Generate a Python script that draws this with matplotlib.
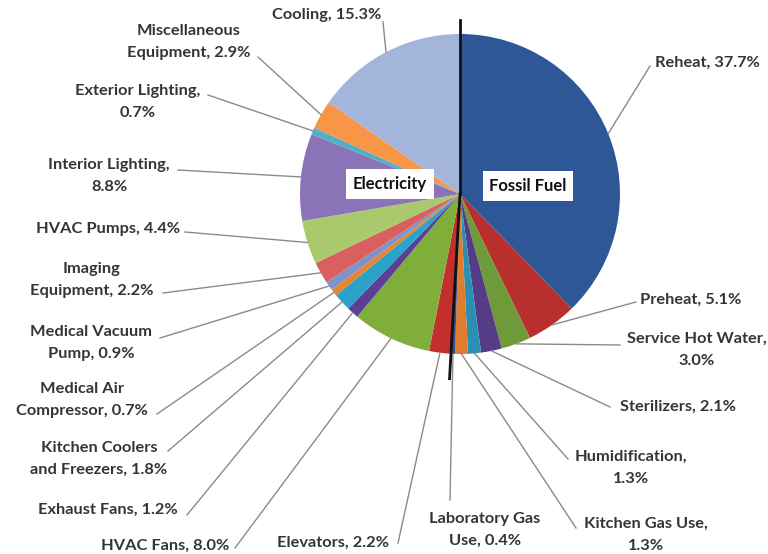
import numpy as np
import matplotlib
matplotlib.use("Agg")
import matplotlib.pyplot as plt

# ---------------- data (clockwise from 12 o'clock) ----------------
categories = ["Reheat", "Preheat", "Service Hot Water", "Sterilizers",
              "Humidification", "Kitchen Gas Use", "Laboratory Gas\nUse",
              "Elevators", "HVAC Fans", "Exhaust Fans",
              "Kitchen Coolers\nand Freezers", "Medical Air\nCompressor",
              "Medical Vacuum\nPump", "Imaging\nEquipment", "HVAC Pumps",
              "Interior Lighting", "Exterior Lighting",
              "Miscellaneous\nEquipment", "Cooling"]
values = [37.7, 5.1, 3.0, 2.1, 1.3, 1.3, 0.4,
          2.2, 8.0, 1.2, 1.8, 0.7, 0.9, 2.2, 4.4, 8.8, 0.7, 2.9, 15.3]
separators = [", ", ", ", ",\n", ", ", ",\n", ",\n", ", ",
              ", ", ", ", ", ", ", ", ", ", ", ", ", ", ", ",
              ",\n", ",\n", ", ", ", "]
groups = ["Fossil"] * 7 + ["Electricity"] * 12
group_names = ["Electricity", "Fossil Fuel"]

colors = ["#2D5797", "#B8302E", "#6F9A3A", "#553C86", "#2B8FB3", "#E07C2E",
          "#2F4F8F",
          "#C2302E", "#80AE3A", "#5B3F96", "#2BA2C9", "#E8842E", "#7F93CB",
          "#D9605F", "#A8C96C", "#8B73B8", "#4FB0C6", "#F79646", "#A3B5DA"]

# ---------------- layout (pixel coordinates, y from top) ----------------
W, H = 768, 554
cx, cy, R = 460, 194, 160
label_pos = [(707, 63), (691, 300), (697, 350), (678, 407), (631, 468),
             (646, 535), (485, 530), (333, 543), (165, 546), (108, 510),
             (99, 459), (82, 400), (91, 343), (92, 280), (108, 229),
             (109, 176), (138, 102), (189, 42), (327, 15)]
line_anchor = [(650, 66), (636, 302), (620, 345), (610, 407), (568, 459),
               (576, 528), (450, 500), (398, 543), (235, 548), (187, 515),
               (168, 451), (157, 414), (160, 338), (163, 293), (185, 232),
               (178, 170), (208, 95), (258, 57), (383, 22)]


def Y(y):
    return H - y


fig = plt.figure(figsize=(W / 100, H / 100), dpi=100)
ax = fig.add_axes([0, 0, 1, 1])

wedges, _ = ax.pie(values, colors=colors, startangle=90, counterclock=False,
                   center=(cx, Y(cy)), radius=R, frame=True,
                   wedgeprops=dict(linewidth=0))
ax.set_xlim(0, W)
ax.set_ylim(0, H)
ax.set_aspect("equal")
ax.axis("off")

font = dict(family=["Lato", "DejaVu Sans"], fontweight="bold", color="#353535")
line_color = "#8A8A8A"

for w, cat, val, sep, (tx, ty), (lx, ly) in zip(wedges, categories, values,
                                                 separators, label_pos,
                                                 line_anchor):
    mid = np.deg2rad((w.theta1 + w.theta2) / 2)
    ex = cx + R * np.cos(mid)
    ey = Y(cy) + R * np.sin(mid)
    ax.plot([ex, lx], [ey, Y(ly)], color=line_color, lw=1.0, zorder=1)
    ax.text(tx, Y(ty), f"{cat}{sep}{val:.1f}%", ha="center", va="center",
            multialignment="center", fontsize=11.8, linespacing=1.7, **font)

# divider between fossil fuel and electricity
fossil_share = sum(v for v, g in zip(values, groups) if g == "Fossil")
ang_end = np.deg2rad(90 - 360 * fossil_share / 100)
ax.plot([cx, cx], [Y(cy), Y(20)], color="#111111", lw=2, zorder=5)
ax.plot([cx, cx + 185 * np.cos(ang_end)], [Y(cy), Y(cy) + 185 * np.sin(ang_end)],
        color="#111111", lw=2, zorder=5)

# group labels
box = dict(boxstyle="square,pad=0.4", fc="white", ec="none")
ax.text(390, Y(184), group_names[0], ha="center", va="center", fontsize=12,
        bbox=box, zorder=6, family=["Lato", "DejaVu Sans"], fontweight="bold",
        color="#111111")
ax.text(528, Y(186), group_names[1], ha="center", va="center", fontsize=12,
        bbox=box, zorder=6, family=["Lato", "DejaVu Sans"], fontweight="bold",
        color="#111111")

fig.savefig("out.png", dpi=100, facecolor="white")
